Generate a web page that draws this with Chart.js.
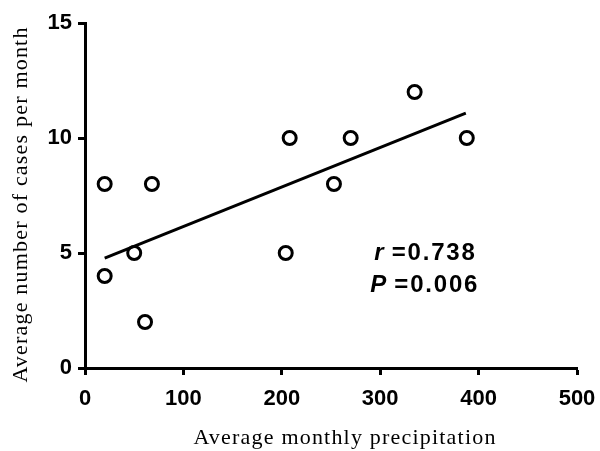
<!DOCTYPE html>
<html>
<head>
<meta charset="utf-8">
<script src="https://cdn.jsdelivr.net/npm/chart.js@4"></script>
<style>
html,body{margin:0;padding:0;background:#fff;}
#wrap{width:600px;height:451px;}
</style>
</head>
<body>
<div id="wrap"><canvas id="c" width="600" height="451"></canvas></div>
<script>
// Data
const precipitation = [20, 20, 50, 61, 68, 204, 208, 253, 270, 335, 388];
const cases         = [8, 4, 5, 2, 8, 5, 10, 8, 10, 12, 10];
const fitX = [20, 387];
const fitY = [4.78, 11.08];
const xTicks = [0, 100, 200, 300, 400, 500];
const yTicks = [0, 5, 10, 15];
const xTitle = 'Average monthly precipitation';
const yTitle = 'Average number of cases per month';
const statLines = [
  {sym: 'r', text: '=0.738'},
  {sym: 'P', text: '=0.006'}
];

const annot = {
  id: 'annot',
  afterDatasetsDraw(chart) {
    const ctx = chart.ctx;
    const xs = chart.scales.x, ys = chart.scales.y;
    ctx.save();
    ctx.fillStyle = '#000';
    ctx.textBaseline = 'middle';
    // statistics
    const sx = xs.getPixelForValue(290);
    const sy = [ys.getPixelForValue(5.0), ys.getPixelForValue(3.6)];
    statLines.forEach((l, i) => {
      ctx.letterSpacing = '0px';
      ctx.font = 'italic bold 24px "Liberation Sans", Arial, sans-serif';
      const symW = ctx.measureText(l.sym).width;
      ctx.fillText(l.sym, sx + (i === 0 ? 4 : 0), sy[i]);
      ctx.letterSpacing = '1.8px';
      ctx.font = 'bold 24px "Liberation Sans", Arial, sans-serif';
      ctx.fillText(l.text, sx + (i === 0 ? 4 : 0) + symW + 8, sy[i]);
    });
    // axis titles
    ctx.letterSpacing = '1.2px';
    ctx.font = '22px "Liberation Serif", "Times New Roman", serif';
    ctx.textAlign = 'center';
    ctx.textBaseline = 'alphabetic';
    ctx.fillText(xTitle, (xs.left + xs.right) / 2 + 14, 444);
    ctx.translate(27, (ys.top + ys.bottom) / 2 + 9);
    ctx.rotate(-Math.PI / 2);
    ctx.fillText(yTitle, 0, 0);
    ctx.restore();
  }
};

new Chart(document.getElementById('c'), {
  type: 'scatter',
  data: {
    datasets: [
      {
        type: 'line',
        data: fitX.map((x, i) => ({x, y: fitY[i]})),
        borderColor: '#000',
        borderWidth: 3,
        pointRadius: 0,
        fill: false
      },
      {
        data: precipitation.map((x, i) => ({x, y: cases[i]})),
        pointRadius: 6.5,
        pointBorderWidth: 3,
        pointBorderColor: '#000',
        pointBackgroundColor: '#fff',
        pointHoverRadius: 6.5
      }
    ]
  },
  options: {
    responsive: false,
    animation: false,
    layout: {padding: {top: 23, right: 23, left: 0, bottom: 0}},
    plugins: {legend: {display: false}, tooltip: {enabled: false}},
    scales: {
      x: {
        type: 'linear',
        min: 0, max: 500,
        afterBuildTicks(s) { s.ticks = xTicks.map(v => ({value: v})); },
        afterFit(s) { s.height = 83; s.paddingRight = 0; s.paddingLeft = 0; },
        border: {display: true, color: '#000', width: 3},
        grid: {display: true, drawOnChartArea: false, drawTicks: true, tickLength: 7, tickWidth: 3, tickColor: '#000'},
        ticks: {color: '#000', padding: 11, maxRotation: 0, font: {family: '"Liberation Sans", Arial, sans-serif', size: 22, weight: 'bold'}},
        title: {display: false, text: xTitle}
      },
      y: {
        type: 'linear',
        min: 0, max: 15,
        afterBuildTicks(s) { s.ticks = yTicks.map(v => ({value: v})); },
        afterFit(s) { s.width = 85; s.paddingTop = 0; s.paddingBottom = 0; },
        border: {display: true, color: '#000', width: 3},
        grid: {display: true, drawOnChartArea: false, drawTicks: true, tickLength: 7, tickWidth: 3, tickColor: '#000'},
        ticks: {color: '#000', padding: 6, font: {family: '"Liberation Sans", Arial, sans-serif', size: 22, weight: 'bold'}},
        title: {display: false, text: yTitle}
      }
    }
  },
  plugins: [annot]
});
</script>
</body>
</html>
